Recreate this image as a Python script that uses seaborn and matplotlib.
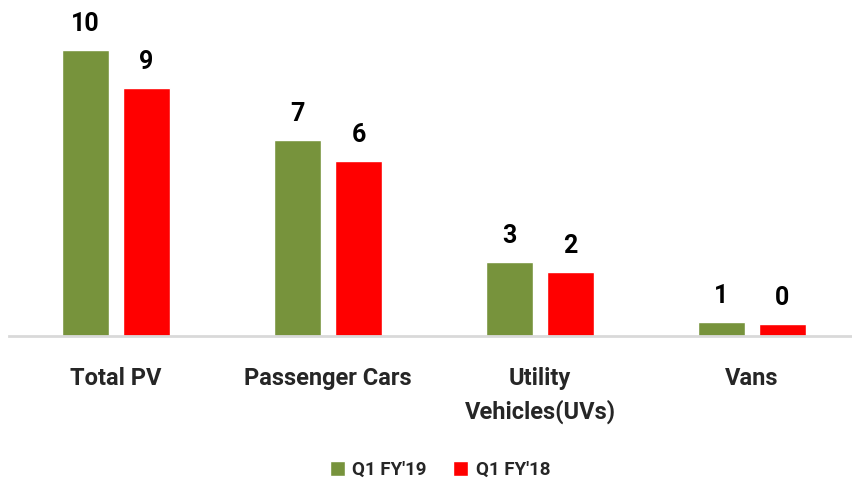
import matplotlib
matplotlib.use("Agg")
import matplotlib.pyplot as plt
import seaborn as sns
import pandas as pd

categories = ["Total PV", "Passenger Cars", "Utility\nVehicles(UVs)", "Vans"]
series = ["Q1 FY'19", "Q1 FY'18"]
q1_fy19 = [10.0, 6.85, 2.59, 0.49]
q1_fy18 = [8.67, 6.12, 2.24, 0.42]
labels_fy19 = ["10", "7", "3", "1"]
labels_fy18 = ["9", "6", "2", "0"]
colors = ["#77933C", "#FF0000"]

df = pd.DataFrame({
    "category": categories * 2,
    "series": [series[0]] * 4 + [series[1]] * 4,
    "value": q1_fy19 + q1_fy18,
})

sns.set_theme(style="white")
plt.rcParams["font.family"] = ["Roboto", "DejaVu Sans"]
plt.rcParams["font.weight"] = "bold"

fig = plt.figure(figsize=(8.52, 4.88), dpi=100)
ax = fig.add_axes([9 / 852, 152 / 488, 843 / 852, 336 / 488])
sns.barplot(data=df, x="category", y="value", hue="series", hue_order=series,
            palette=colors, width=0.575, gap=0.23, ax=ax, saturation=1,
            errorbar=None, legend=True)

for cont, labs in zip(ax.containers, [labels_fy19, labels_fy18]):
    ax.bar_label(cont, labels=labs, padding=10, fontsize=18, fontweight="bold",
                 color="black")

ax.set_xlim(-0.505, 3.472)
ax.set_ylim(0, 336 / 28.6)
ax.set_xlabel("")
ax.set_ylabel("")
ax.set_yticks([])
for s in ["top", "right", "left"]:
    ax.spines[s].set_visible(False)
ax.spines["bottom"].set_color("#D9D9D9")
ax.spines["bottom"].set_linewidth(2)
ax.tick_params(axis="x", length=0, pad=22, labelsize=17)
for t in ax.get_xticklabels():
    t.set_fontweight("bold")
    t.set_linespacing(1.5)

leg = ax.legend(loc="center", bbox_to_anchor=(440 / 852, 18 / 488),
                bbox_transform=fig.transFigure, ncol=2, frameon=False,
                handlelength=0.8, handleheight=0.8, handletextpad=0.4,
                columnspacing=1.4, prop={"weight": "bold", "size": 13.5})

fig.savefig("out.png", dpi=100)
